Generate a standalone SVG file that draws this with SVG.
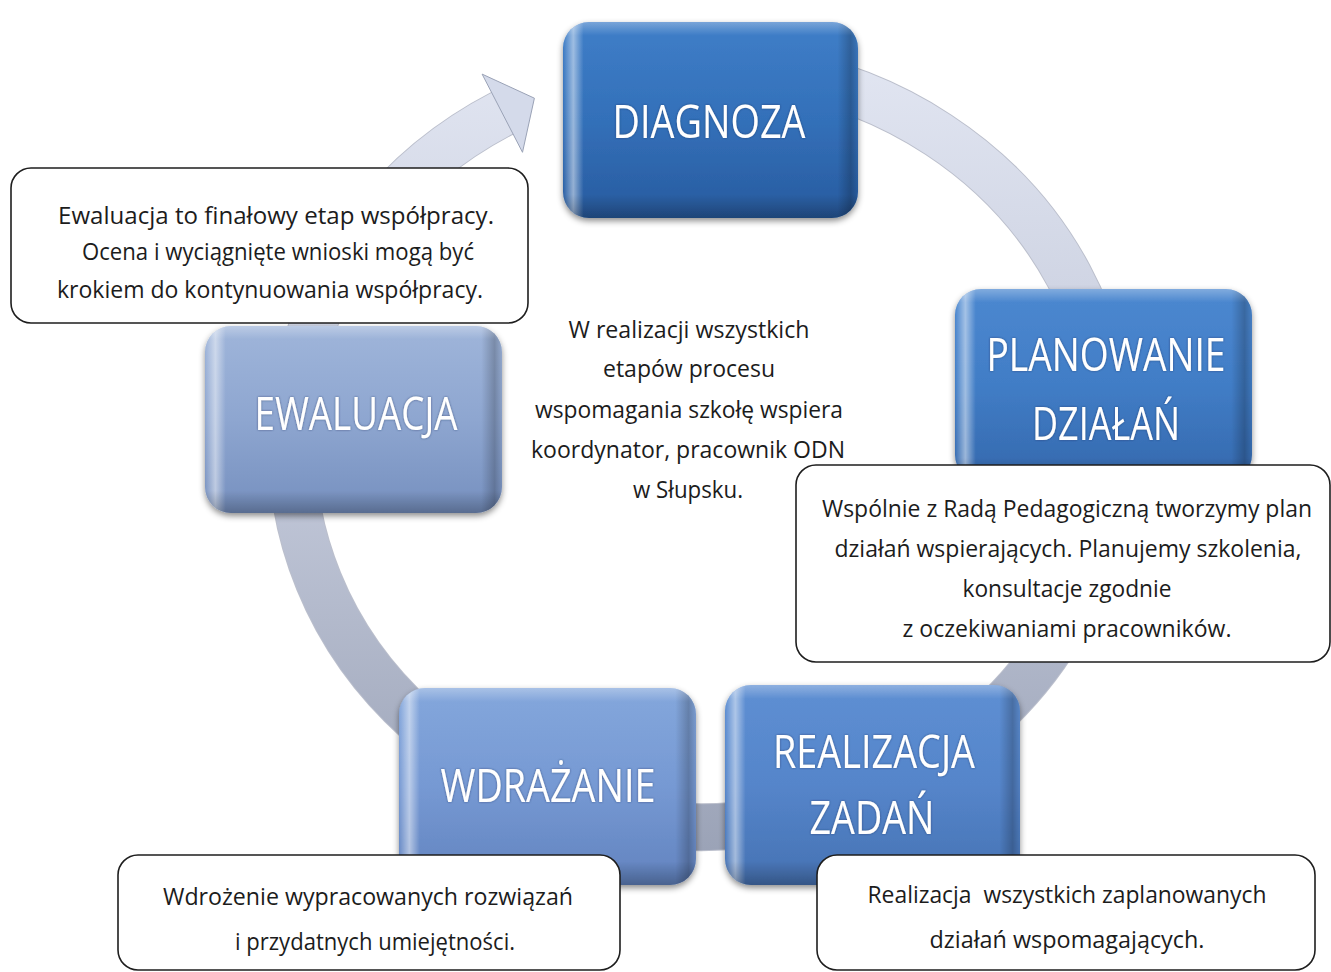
<svg xmlns="http://www.w3.org/2000/svg" width="1331" height="972" viewBox="0 0 1331 972">
<defs>
<style>
.title{font-family:"Open Sans","Noto Sans","Liberation Sans",sans-serif;font-size:46px;fill:#ffffff;text-anchor:middle}
.body{font-family:"Open Sans","Noto Sans","Liberation Sans",sans-serif;font-size:23px;fill:#1c1c1c;text-anchor:middle}
.callout{fill:#ffffff;stroke:#1e1e1e;stroke-width:1.6}
</style>
<linearGradient id="ringG" gradientUnits="userSpaceOnUse" x1="0" y1="50" x2="0" y2="860">
<stop offset="0" stop-color="#e2e6f2"/>
<stop offset="0.5" stop-color="#c3c9da"/>
<stop offset="1" stop-color="#9aa2b6"/>
</linearGradient>
<linearGradient id="gD" x1="0" y1="0" x2="0" y2="1"><stop offset="0" stop-color="#3f7ec8"/><stop offset="0.5" stop-color="#3370b9"/><stop offset="1" stop-color="#285b9f"/></linearGradient>
<linearGradient id="gP" x1="0" y1="0" x2="0" y2="1"><stop offset="0" stop-color="#4c88d0"/><stop offset="0.5" stop-color="#417dc6"/><stop offset="1" stop-color="#3468ad"/></linearGradient>
<linearGradient id="gR" x1="0" y1="0" x2="0" y2="1"><stop offset="0" stop-color="#5e8fd3"/><stop offset="0.5" stop-color="#5585ca"/><stop offset="1" stop-color="#4672b3"/></linearGradient>
<linearGradient id="gW" x1="0" y1="0" x2="0" y2="1"><stop offset="0" stop-color="#84a7dc"/><stop offset="0.5" stop-color="#7699d3"/><stop offset="1" stop-color="#6283bf"/></linearGradient>
<linearGradient id="gE" x1="0" y1="0" x2="0" y2="1"><stop offset="0" stop-color="#9fb5da"/><stop offset="0.5" stop-color="#8ea6d0"/><stop offset="1" stop-color="#7690bf"/></linearGradient>
<linearGradient id="bevH" x1="0" y1="0" x2="1" y2="0">
<stop offset="0" stop-color="#ffffff" stop-opacity="0"/>
<stop offset="0.035" stop-color="#ffffff" stop-opacity="0.5"/>
<stop offset="0.07" stop-color="#ffffff" stop-opacity="0"/>
<stop offset="0.93" stop-color="#000000" stop-opacity="0"/>
<stop offset="0.975" stop-color="#000000" stop-opacity="0.22"/>
<stop offset="1" stop-color="#000000" stop-opacity="0.05"/>
</linearGradient>
<linearGradient id="bevV" x1="0" y1="0" x2="0" y2="1">
<stop offset="0" stop-color="#ffffff" stop-opacity="0.3"/>
<stop offset="0.07" stop-color="#ffffff" stop-opacity="0"/>
<stop offset="0.88" stop-color="#000000" stop-opacity="0"/>
<stop offset="1" stop-color="#000000" stop-opacity="0.25"/>
</linearGradient>
<filter id="sh" x="-10%" y="-10%" width="120%" height="125%">
<feDropShadow dx="0" dy="3" stdDeviation="3" flood-color="#000000" flood-opacity="0.45"/>
</filter>
<filter id="tg" x="-10%" y="-30%" width="120%" height="160%">
<feDropShadow dx="0" dy="0" stdDeviation="1.2" flood-color="#1a2f55" flood-opacity="0.6"/>
</filter>
</defs>
<rect width="1331" height="972" fill="#ffffff"/>

<g id="connectors">
<path d="M 773.2 70.8 A 410 381 0 1 1 503.2 112.8" fill="none" stroke="#8d95aa" stroke-opacity="0.6" stroke-width="48"/>
<path d="M 773.2 70.8 A 410 381 0 1 1 503.2 112.8" fill="none" stroke="url(#ringG)" stroke-width="46"/>
<polygon points="482.1,74.1 534.4,98.2 522.5,152.3" fill="#d4daea" stroke="#9aa2b6" stroke-width="1"/>
</g>

<g id="node-diagnoza">
<rect x="563" y="22" width="295" height="196" rx="26" fill="url(#gD)" filter="url(#sh)"/>
<rect x="563" y="22" width="295" height="196" rx="26" fill="url(#bevH)"/>
<rect x="563" y="22" width="295" height="196" rx="26" fill="url(#bevV)"/>
<text class="title" x="709" y="138" textLength="193" lengthAdjust="spacingAndGlyphs" filter="url(#tg)">DIAGNOZA</text>
</g>

<g id="node-planowanie">
<rect x="955" y="289" width="297" height="192" rx="26" fill="url(#gP)" filter="url(#sh)"/>
<rect x="955" y="289" width="297" height="192" rx="26" fill="url(#bevH)"/>
<rect x="955" y="289" width="297" height="192" rx="26" fill="url(#bevV)"/>
<text class="title" x="1106" y="371" textLength="239" lengthAdjust="spacingAndGlyphs" filter="url(#tg)">PLANOWANIE</text>
<text class="title" x="1106" y="440" textLength="148" lengthAdjust="spacingAndGlyphs" filter="url(#tg)">DZIAŁAŃ</text>
</g>

<g id="node-realizacja">
<rect x="725" y="685" width="295" height="200" rx="26" fill="url(#gR)" filter="url(#sh)"/>
<rect x="725" y="685" width="295" height="200" rx="26" fill="url(#bevH)"/>
<rect x="725" y="685" width="295" height="200" rx="26" fill="url(#bevV)"/>
<text class="title" x="874" y="768" textLength="202" lengthAdjust="spacingAndGlyphs" filter="url(#tg)">REALIZACJA</text>
<text class="title" x="872" y="834" textLength="125" lengthAdjust="spacingAndGlyphs" filter="url(#tg)">ZADAŃ</text>
</g>

<g id="node-wdrazanie">
<rect x="399" y="688" width="297" height="197" rx="26" fill="url(#gW)" filter="url(#sh)"/>
<rect x="399" y="688" width="297" height="197" rx="26" fill="url(#bevH)"/>
<rect x="399" y="688" width="297" height="197" rx="26" fill="url(#bevV)"/>
<text class="title" x="548" y="802" textLength="215" lengthAdjust="spacingAndGlyphs" filter="url(#tg)">WDRAŻANIE</text>
</g>

<g id="node-ewaluacja">
<rect x="205" y="326" width="297" height="187" rx="26" fill="url(#gE)" filter="url(#sh)"/>
<rect x="205" y="326" width="297" height="187" rx="26" fill="url(#bevH)"/>
<rect x="205" y="326" width="297" height="187" rx="26" fill="url(#bevV)"/>
<text class="title" x="356" y="430" textLength="203" lengthAdjust="spacingAndGlyphs" filter="url(#tg)">EWALUACJA</text>
</g>

<g id="note-center">
<text class="body" x="689" y="338" textLength="241" lengthAdjust="spacingAndGlyphs">W realizacji wszystkich</text>
<text class="body" x="689" y="377" textLength="172" lengthAdjust="spacingAndGlyphs">etapów procesu</text>
<text class="body" x="689" y="418" textLength="308" lengthAdjust="spacingAndGlyphs">wspomagania szkołę wspiera</text>
<text class="body" x="688" y="458" textLength="314" lengthAdjust="spacingAndGlyphs">koordynator, pracownik ODN</text>
<text class="body" x="688" y="498" textLength="110" lengthAdjust="spacingAndGlyphs">w Słupsku.</text>
</g>

<g id="note-ewaluacja">
<rect class="callout" x="11" y="168" width="517" height="155" rx="20"/>
<text class="body" x="276" y="224" textLength="436" lengthAdjust="spacingAndGlyphs">Ewaluacja to finałowy etap współpracy.</text>
<text class="body" x="278" y="260" textLength="392" lengthAdjust="spacingAndGlyphs">Ocena i wyciągnięte wnioski mogą być</text>
<text class="body" x="270" y="298" textLength="426" lengthAdjust="spacingAndGlyphs">krokiem do kontynuowania współpracy.</text>
</g>

<g id="note-planowanie">
<rect class="callout" x="796" y="465" width="534" height="197" rx="20"/>
<text class="body" x="1067" y="517" textLength="490" lengthAdjust="spacingAndGlyphs">Wspólnie z Radą Pedagogiczną tworzymy plan</text>
<text class="body" x="1068" y="557" textLength="467" lengthAdjust="spacingAndGlyphs">działań wspierających. Planujemy szkolenia,</text>
<text class="body" x="1067" y="597" textLength="209" lengthAdjust="spacingAndGlyphs">konsultacje zgodnie</text>
<text class="body" x="1067" y="637" textLength="329" lengthAdjust="spacingAndGlyphs">z oczekiwaniami pracowników.</text>
</g>

<g id="note-wdrazanie">
<rect class="callout" x="118" y="855" width="502" height="115" rx="20"/>
<text class="body" x="368" y="905" textLength="410" lengthAdjust="spacingAndGlyphs">Wdrożenie wypracowanych rozwiązań</text>
<text class="body" x="375" y="950" textLength="280" lengthAdjust="spacingAndGlyphs">i przydatnych umiejętności.</text>
</g>

<g id="note-realizacja">
<rect class="callout" x="817" y="855" width="498" height="115" rx="20"/>
<text class="body" x="1067" y="903" textLength="399" lengthAdjust="spacingAndGlyphs" xml:space="preserve">Realizacja  wszystkich zaplanowanych</text>
<text class="body" x="1067" y="948" textLength="275" lengthAdjust="spacingAndGlyphs">działań wspomagających.</text>
</g>
</svg>
